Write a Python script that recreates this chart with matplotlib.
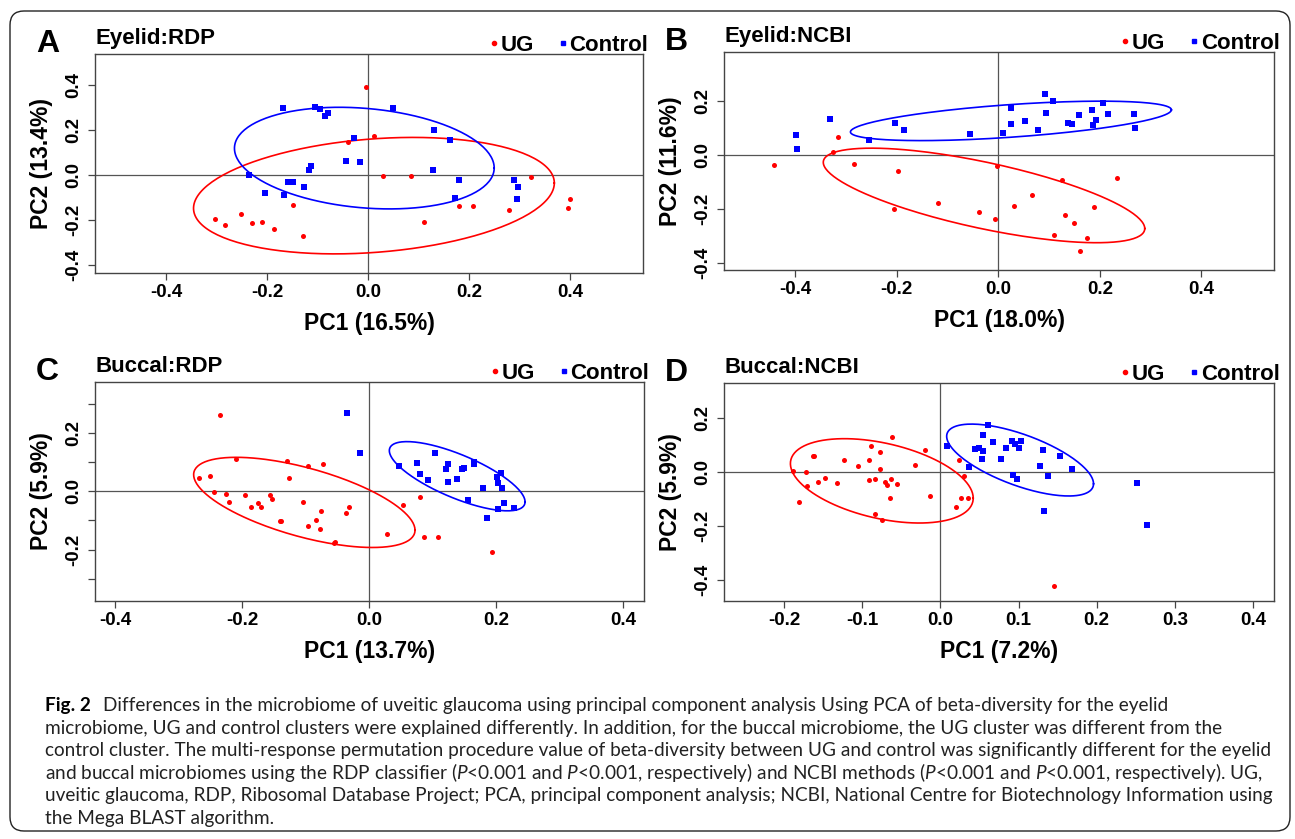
import numpy as np
import matplotlib
matplotlib.use('Agg')
import matplotlib.pyplot as plt
from matplotlib.lines import Line2D
from matplotlib.patches import FancyBboxPatch

plt.rcParams['font.family'] = ['Liberation Sans', 'DejaVu Sans']
plt.rcParams['mathtext.fontset'] = 'custom'
plt.rcParams['mathtext.rm'] = 'Lato'
plt.rcParams['mathtext.it'] = 'Lato:italic'

# ---- data ----
# A  Eyelid:RDP
a_ug_x = [-0.005, 0.011, -0.040, 0.028, 0.085, 0.322, 0.400, 0.396, 0.278, 0.207,
          0.179, 0.111, -0.150, -0.129, -0.187, -0.211, -0.231, -0.252, -0.284, -0.303]
a_ug_y = [0.391, 0.172, 0.145, -0.003, -0.004, -0.010, -0.108, -0.145, -0.156, -0.138,
          -0.138, -0.209, -0.135, -0.270, -0.239, -0.209, -0.215, -0.173, -0.221, -0.196]
a_ct_x = [-0.169, -0.106, -0.095, -0.085, -0.079, 0.048, 0.130, 0.162, -0.029, -0.044,
          -0.016, -0.113, -0.118, -0.237, -0.159, -0.149, -0.127, -0.205, -0.167, 0.128,
          0.180, 0.171, 0.288, 0.297, 0.295]
a_ct_y = [0.298, 0.302, 0.292, 0.264, 0.277, 0.299, 0.201, 0.157, 0.164, 0.064,
          0.059, 0.041, 0.021, -0.001, -0.030, -0.030, -0.055, -0.080, -0.090, 0.022,
          -0.022, -0.102, -0.022, -0.053, -0.107]
# ellipse: centre x, centre y, half width, half height, correlation
a_ug_ell = [0.011, -0.092, 0.357, 0.259, 0.217]
a_ct_ell = [-0.008, 0.075, 0.257, 0.226, -0.193]

# B  Eyelid:NCBI
b_ug_x = [-0.442, -0.315, -0.325, -0.285, -0.198, -0.205, -0.118, -0.038, -0.007, -0.002,
          0.032, 0.066, 0.126, 0.132, 0.149, 0.109, 0.188, 0.174, 0.161, 0.234]
b_ug_y = [-0.037, 0.064, 0.010, -0.035, -0.060, -0.202, -0.178, -0.211, -0.237, -0.042,
          -0.189, -0.149, -0.094, -0.223, -0.252, -0.299, -0.194, -0.307, -0.358, -0.085]
b_ct_x = [-0.398, -0.397, -0.332, -0.254, -0.203, -0.185, -0.056, 0.010, 0.025, 0.026,
          0.053, 0.078, 0.093, 0.095, 0.108, 0.138, 0.145, 0.159, 0.185, 0.187,
          0.193, 0.206, 0.216, 0.267, 0.270]
b_ct_y = [0.072, 0.020, 0.133, 0.053, 0.116, 0.090, 0.075, 0.079, 0.115, 0.173,
          0.126, 0.091, 0.225, 0.153, 0.199, 0.116, 0.112, 0.147, 0.164, 0.109,
          0.130, 0.191, 0.149, 0.152, 0.100]
b_ug_ell = [-0.028, -0.151, 0.3165, 0.175, -0.70]
b_ct_ell = [0.025, 0.125, 0.316, 0.073, 0.56]

# C  Buccal:RDP
c_ug_x = [-0.235, -0.209, -0.130, -0.096, -0.072, -0.126, -0.268, -0.250, -0.244, -0.226,
          -0.221, -0.196, -0.186, -0.175, -0.170, -0.156, -0.153, -0.141, -0.138, -0.104,
          -0.076, -0.083, -0.096, -0.077, -0.031, -0.036, -0.056, -0.053, 0.029, 0.054,
          0.080, 0.086, 0.108, 0.194]
c_ug_y = [0.263, 0.110, 0.106, 0.087, 0.093, 0.047, 0.047, 0.052, -0.001, -0.010,
          -0.037, -0.014, -0.053, -0.041, -0.055, -0.014, -0.025, -0.101, -0.102, -0.037,
          -0.066, -0.099, -0.120, -0.129, -0.055, -0.074, -0.179, -0.174, -0.145, -0.048,
          -0.021, -0.157, -0.157, -0.207]
c_ct_x = [-0.035, -0.015, 0.048, 0.076, 0.081, 0.093, 0.104, 0.124, 0.122, 0.125,
          0.139, 0.146, 0.150, 0.165, 0.165, 0.156, 0.180, 0.186, 0.201, 0.208,
          0.204, 0.210, 0.213, 0.203, 0.229]
c_ct_y = [0.270, 0.133, 0.087, 0.099, 0.061, 0.038, 0.131, 0.095, 0.078, 0.032,
          0.041, 0.077, 0.082, 0.100, 0.095, -0.031, 0.011, -0.092, 0.049, 0.063,
          0.028, 0.011, -0.040, -0.061, -0.057]
c_ug_ell = [-0.102, -0.038, 0.1745, 0.155, -0.615]
c_ct_ell = [0.139, 0.052, 0.107, 0.119, -0.74]

# D  Buccal:NCBI
d_ug_x = [-0.189, -0.181, -0.172, -0.171, -0.163, -0.162, -0.157, -0.148, -0.132, -0.124,
          -0.105, -0.092, -0.089, -0.091, -0.084, -0.077, -0.077, -0.071, -0.068, -0.063,
          -0.056, -0.064, -0.084, -0.075, -0.062, -0.032, -0.020, -0.013, 0.024, 0.030,
          0.026, 0.035, 0.020, 0.146]
d_ug_y = [0.002, -0.112, -0.001, -0.053, 0.058, 0.060, -0.039, -0.022, -0.042, 0.043,
          0.023, 0.043, 0.095, -0.031, -0.026, 0.073, 0.011, -0.038, -0.050, -0.028,
          -0.044, -0.095, -0.156, -0.178, 0.128, 0.026, 0.081, -0.089, 0.044, -0.014,
          -0.098, -0.096, -0.130, -0.423]
d_ct_x = [0.009, 0.037, 0.044, 0.050, 0.053, 0.055, 0.055, 0.061, 0.067, 0.077,
          0.084, 0.092, 0.096, 0.101, 0.103, 0.093, 0.098, 0.127, 0.131, 0.153,
          0.138, 0.168, 0.132, 0.251, 0.264]
d_ct_y = [0.095, 0.017, 0.085, 0.089, 0.048, 0.079, 0.138, 0.174, 0.112, 0.046,
          0.087, 0.114, 0.102, 0.087, 0.116, -0.012, -0.025, 0.023, 0.081, 0.060,
          -0.016, 0.010, -0.144, -0.041, -0.196]
d_ug_ell = [-0.075, -0.033, 0.117, 0.156, -0.41]
d_ct_ell = [0.102, 0.044, 0.094, 0.133, -0.66]

caption = [
    "Differences in the microbiome of uveitic glaucoma using principal component analysis Using PCA of beta-diversity for the eyelid",
    "microbiome, UG and control clusters were explained differently. In addition, for the buccal microbiome, the UG cluster was different from the",
    "control cluster. The multi-response permutation procedure value of beta-diversity between UG and control was significantly different for the eyelid",
    "and buccal microbiomes using the RDP classifier ($P$<0.001 and $P$<0.001, respectively) and NCBI methods ($P$<0.001 and $P$<0.001, respectively). UG,",
    "uveitic glaucoma, RDP, Ribosomal Database Project; PCA, principal component analysis; NCBI, National Centre for Biotechnology Information using",
    "the Mega BLAST algorithm.",
]

W, H = 1295, 839
fig = plt.figure(figsize=(W / 100, H / 100), dpi=100)
fig.patches.append(FancyBboxPatch((10, 8), 1280, 820, boxstyle='round,pad=0,rounding_size=14',
                                  transform=None, fill=False, ec='#222222', lw=1.0))

frame = '#444444'


def ellipse(p, n=200):
    cx, cy, a, b, rho = p
    t = np.linspace(0, 2 * np.pi, n)
    phi = np.arccos(rho)
    return cx + a * np.cos(t), cy + b * np.cos(t - phi)


def panel(px, letter, title, ug_x, ug_y, ct_x, ct_y, ug_ell, ct_ell,
          xlim, ylim, xticks, yticks, ylabels, xlabel, ylabel):
    l, t, r, b = px
    ax = fig.add_axes([l / W, 1 - b / H, (r - l) / W, (b - t) / H])
    ax.axhline(0, color='#555555', lw=0.9, zorder=1)
    ax.axvline(0, color='#555555', lw=0.9, zorder=1)
    ex, ey = ellipse(ug_ell)
    ax.plot(ex, ey, color='red', lw=1.2, zorder=2)
    ex, ey = ellipse(ct_ell)
    ax.plot(ex, ey, color='blue', lw=1.2, zorder=2)
    ax.scatter(ug_x, ug_y, s=13, marker='o', color='red', lw=0, zorder=3)
    ax.scatter(ct_x, ct_y, s=17, marker='s', color='blue', lw=0, zorder=3)
    ax.set_xlim(xlim)
    ax.set_ylim(ylim)
    ax.set_xticks(xticks)
    ax.set_xticklabels(['%.1f' % (v + 0.0) for v in np.round(xticks, 2)])
    ax.set_yticks(yticks)
    ax.set_yticklabels(ylabels)
    for s in ax.spines.values():
        s.set_color(frame)
        s.set_linewidth(1.0)
    ax.tick_params(direction='out', length=5, width=0.9, color=frame,
                   labelsize=13.5, pad=3)
    ax.tick_params(axis='y', labelrotation=90, pad=4)
    for lab in ax.get_xticklabels() + ax.get_yticklabels():
        lab.set_fontweight('bold')
    for lab in ax.get_yticklabels():
        lab.set_va('center')
    ax.set_xlabel(xlabel, fontsize=16.5, fontweight='bold')
    ax.set_ylabel(ylabel, fontsize=16.5, fontweight='bold')
    ax.xaxis.set_label_coords(0.5, -0.23)
    ax.xaxis.label.set_va('center')
    ax.yaxis.set_label_coords(-0.097, 0.5)
    ax.yaxis.label.set_va('center')
    ax.set_title(title, loc='left', fontsize=16, fontweight='bold', pad=7)
    handles = [Line2D([], [], marker='o', color='red', ls='', markersize=3),
               Line2D([], [], marker='s', color='blue', ls='', markersize=3)]
    ax.legend(handles, ['UG', 'Control'], ncol=2, loc='lower right',
              bbox_to_anchor=(1.01, 0.99), frameon=False,
              prop={'weight': 'bold', 'size': 16}, handlelength=0.4,
              handletextpad=0.1, columnspacing=1.1, borderpad=0, borderaxespad=0)
    fig.text((l - 59) / W, 1 - (t - 2) / H, letter, fontsize=23, fontweight='bold',
             ha='left', va='baseline')
    return ax


panel((95, 54, 643, 273), 'A', 'Eyelid:RDP', a_ug_x, a_ug_y, a_ct_x, a_ct_y,
      a_ug_ell, a_ct_ell, (-0.541, 0.5435), (-0.436, 0.538),
      [-0.4, -0.2, 0.0, 0.2, 0.4], [-0.4, -0.2, 0.0, 0.2, 0.4],
      ['-0.4', '-0.2', '0.0', '0.2', '0.4'], 'PC1 (16.5%)', 'PC2 (13.4%)')
panel((724, 52, 1274, 270), 'B', 'Eyelid:NCBI', b_ug_x, b_ug_y, b_ct_x, b_ct_y,
      b_ug_ell, b_ct_ell, (-0.540, 0.543), (-0.427, 0.380),
      [-0.4, -0.2, 0.0, 0.2, 0.4], [-0.4, -0.2, 0.0, 0.2],
      ['-0.4', '-0.2', '0.0', '0.2'], 'PC1 (18.0%)', 'PC2 (11.6%)')
panel((95, 382, 644, 601), 'C', 'Buccal:RDP', c_ug_x, c_ug_y, c_ct_x, c_ct_y,
      c_ug_ell, c_ct_ell, (-0.432, 0.4335), (-0.377, 0.376),
      [-0.4, -0.2, 0.0, 0.2, 0.4], [-0.3, -0.2, -0.1, 0.0, 0.1, 0.2, 0.3],
      ['', '-0.2', '', '0.0', '', '0.2', ''], 'PC1 (13.7%)', 'PC2 (5.9%)')
panel((724, 383, 1274, 601), 'D', 'Buccal:NCBI', d_ug_x, d_ug_y, d_ct_x, d_ct_y,
      d_ug_ell, d_ct_ell, (-0.277, 0.427), (-0.4775, 0.329),
      [-0.2, -0.1, 0.0, 0.1, 0.2, 0.3, 0.4], [-0.4, -0.2, 0.0, 0.2],
      ['-0.4', '-0.2', '0.0', '0.2'], 'PC1 (7.2%)', 'PC2 (5.9%)')

# caption, font size fitted so the widest line spans the box
renderer = fig.canvas.get_renderer()
widths = []
for line in caption[2:4]:
    probe = fig.text(0, 0, line, family='Lato', fontsize=12)
    widths.append(probe.get_window_extent(renderer).width)
    probe.remove()
fs = 12 * 1229 / max(widths)
y0, dy = 711, 22.6
figlab = fig.text(45 / W, 1 - y0 / H, 'Fig. 2', family='Lato', fontweight='bold',
                  fontsize=fs, va='baseline')
wfig = figlab.get_window_extent(renderer).width
for i, line in enumerate(caption):
    x = 45 + (wfig + 12 if i == 0 else 0)
    fig.text(x / W, 1 - (y0 + i * dy) / H, line, family='Lato', fontsize=fs,
             va='baseline', color='#222222')

fig.savefig('out.png', dpi=100)
